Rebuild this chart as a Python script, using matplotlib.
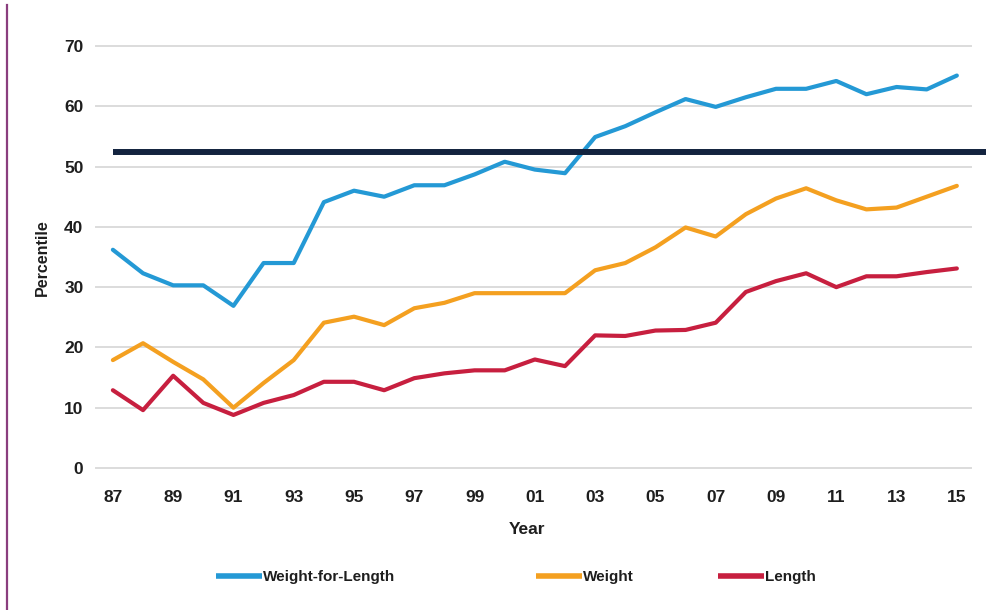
import matplotlib
matplotlib.use("Agg")
import matplotlib.pyplot as plt
from matplotlib.lines import Line2D

# Percentile trends by year, 1987-2015
years = list(range(1987, 2016))
weight_for_length = [36.2, 32.3, 30.3, 30.3, 26.9, 34.0, 34.0, 44.1, 46.0, 45.0,
                     46.9, 46.9, 48.7, 50.8, 49.5, 48.9, 54.9, 56.7, 59.0, 61.2,
                     59.9, 61.5, 62.9, 62.9, 64.2, 62.0, 63.2, 62.8, 65.1]
weight = [17.9, 20.7, 17.6, 14.7, 10.0, 14.1, 17.9, 24.1, 25.1, 23.7,
          26.5, 27.4, 29.0, 29.0, 29.0, 29.0, 32.8, 34.0, 36.6, 39.9,
          38.4, 42.1, 44.7, 46.4, 44.4, 42.9, 43.2, 45.0, 46.8]
length = [12.9, 9.6, 15.3, 10.8, 8.8, 10.8, 12.1, 14.3, 14.3, 12.9,
          14.9, 15.7, 16.2, 16.2, 18.0, 16.9, 22.0, 21.9, 22.8, 22.9,
          24.1, 29.2, 31.0, 32.3, 30.0, 31.8, 31.8, 32.5, 33.1]
reference_level = 52.4

y_ticks = [0, 10, 20, 30, 40, 50, 60, 70]
x_tick_years = years[::2]
x_tick_labels = [f"{y % 100:02d}" for y in x_tick_years]

series_names = ["Weight-for-Length", "Weight", "Length"]
series_colors = ["#2499d5", "#f4a020", "#c71f3f"]

FONT = ["Liberation Sans", "DejaVu Sans"]
TEXT_COLOR = "#1e1e1e"

fig = plt.figure(figsize=(9.86, 6.10), dpi=100)
ax = fig.add_axes([96 / 986, 1 - 468 / 610, (971 - 96) / 986, (468 - 46) / 610])

idx = list(range(len(years)))
ax.set_xlim(-0.56, len(years) - 1 + 0.47)
ax.set_ylim(0, 70)

# horizontal gridlines
for v in y_ticks:
    ax.axhline(v, color="#dcdcdc", lw=1.4, zorder=1, clip_on=False)

handles = []
for vals, name, col in zip([weight_for_length, weight, length], series_names, series_colors):
    ax.plot(idx, vals, color=col, lw=3.0, zorder=3, solid_joinstyle="round",
            solid_capstyle="round")
    handles.append(Line2D([0], [0], color=col, lw=4.0, solid_capstyle="butt"))

# reference line running out to the right edge
ax.plot([0, len(years) + 2], [reference_level, reference_level],
        color="#13233f", lw=4.3, zorder=4, clip_on=False, solid_capstyle="butt")

for s in ax.spines.values():
    s.set_visible(False)

ax.set_yticks(y_ticks)
ax.set_yticklabels([str(v) for v in y_ticks])
ax.set_xticks([years.index(y) for y in x_tick_years])
ax.set_xticklabels(x_tick_labels)
ax.tick_params(axis="both", length=0, labelsize=12.5, labelcolor=TEXT_COLOR)
ax.tick_params(axis="y", pad=9)
ax.tick_params(axis="x", pad=16)
for lab in ax.get_xticklabels() + ax.get_yticklabels():
    lab.set_family(FONT)
    lab.set_fontweight("bold")

fig.text(527 / 986, 1 - 530 / 610, "Year", ha="center", va="center",
         fontsize=12.5, fontweight="bold", family=FONT, color=TEXT_COLOR)
fig.text(42 / 986, 1 - 258 / 610, "Percentile", ha="center", va="center",
         rotation=90, fontsize=11.5, fontweight="bold", family=FONT, color=TEXT_COLOR)

# legend entries placed individually along the bottom
legend_x = [216 / 986, 536 / 986, 718 / 986]
for h, name, lx in zip(handles, series_names, legend_x):
    leg = fig.legend([h], [name], loc="center left", bbox_to_anchor=(lx, 1 - 577 / 610),
                     frameon=False, handlelength=3.0, handletextpad=0.05,
                     borderpad=0, borderaxespad=0,
                     prop={"family": FONT, "size": 11, "weight": "bold"})
    for t in leg.get_texts():
        t.set_color(TEXT_COLOR)

# thin vertical rule along the left edge
fig.add_artist(Line2D([7 / 986, 7 / 986], [0, 1 - 5 / 610], transform=fig.transFigure,
                      color="#8a3e7e", lw=1.6))

fig.savefig("out.png", dpi=100, facecolor="white")
